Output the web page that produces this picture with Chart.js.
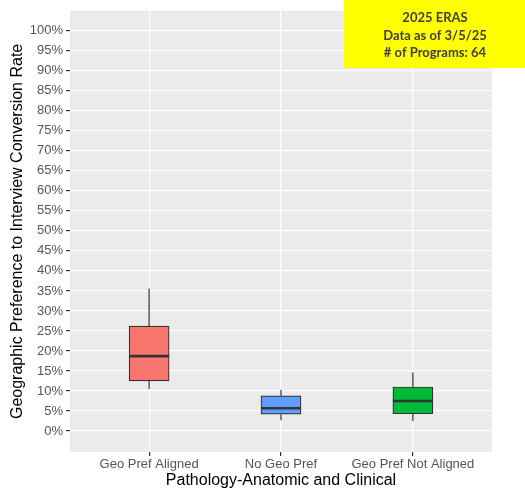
<!DOCTYPE html>
<html>
<head>
<meta charset="utf-8">
<script src="https://cdn.jsdelivr.net/npm/chart.js@4/dist/chart.umd.min.js"></script>
<style>
  body { margin: 0; background: #fff; }
  #wrap { width: 525px; height: 488px; }
</style>
</head>
<body>
<div id="wrap"><canvas id="boxChart" width="525" height="488"></canvas></div>
<script>
//------------------Data------------------
const categories = ['Geo Pref Aligned', 'No Geo Pref', 'Geo Pref Not Aligned'];
const whiskerLow = [10.5, 2.7, 2.5];
const q1 = [12.5, 4.2, 4.3];
const median = [18.7, 5.7, 7.5];
const q3 = [26.2, 8.8, 11.0];
const whiskerHigh = [35.6, 10.3, 14.6];
const yTicks = [0, 5, 10, 15, 20, 25, 30, 35, 40, 45, 50, 55, 60, 65, 70, 75, 80, 85, 90, 95, 100];
const noteLines = ['2025 ERAS', 'Data as of 3/5/25', '# of Programs: 64'];

const boxColors = ['#F8766D', '#619CFF', '#00BA38'];
const edge = '#333333';

//------------------Panel background, whiskers, medians, note------------------
const boxPlugin = {
  id: 'boxPlugin',
  beforeDraw(chart) {
    const { ctx, chartArea: a } = chart;
    ctx.save();
    ctx.fillStyle = '#EBEBEB';
    ctx.fillRect(a.left, a.top, a.right - a.left, a.bottom - a.top);
    ctx.restore();
  },
  beforeDatasetsDraw(chart) {
    const { ctx, scales } = chart;
    ctx.save();
    ctx.strokeStyle = edge;
    ctx.lineWidth = 1.2;
    categories.forEach((c, i) => {
      const x = scales.x.getPixelForValue(i + 1);
      ctx.beginPath();
      ctx.moveTo(x, scales.y.getPixelForValue(whiskerLow[i]));
      ctx.lineTo(x, scales.y.getPixelForValue(q1[i]));
      ctx.moveTo(x, scales.y.getPixelForValue(q3[i]));
      ctx.lineTo(x, scales.y.getPixelForValue(whiskerHigh[i]));
      ctx.stroke();
    });
    ctx.restore();
  },
  afterDatasetsDraw(chart) {
    const { ctx, scales } = chart;
    const meta = chart.getDatasetMeta(0);
    ctx.save();
    ctx.strokeStyle = edge;
    ctx.lineWidth = 2.6;
    meta.data.forEach((bar, i) => {
      const half = bar.width / 2;
      const y = scales.y.getPixelForValue(median[i]);
      ctx.beginPath();
      ctx.moveTo(bar.x - half, y);
      ctx.lineTo(bar.x + half, y);
      ctx.stroke();
    });
    ctx.restore();
  },
  afterDraw(chart) {
    const { ctx } = chart;
    ctx.save();
    ctx.fillStyle = '#FFFF00';
    ctx.fillRect(344, 0, 181, 68);
    ctx.fillStyle = '#404040';
    ctx.font = 'bold 13px Lato';
    ctx.textAlign = 'center';
    ctx.textBaseline = 'middle';
    noteLines.forEach((t, i) => ctx.fillText(t, 435, 18 + i * 17.5));
    ctx.restore();
  }
};

//------------------Build the chart------------------
new Chart(document.getElementById('boxChart'), {
  type: 'bar',
  data: {
    datasets: [{
      data: categories.map((c, i) => ({ x: i + 1, y: [q1[i], q3[i]] })),
      backgroundColor: boxColors,
      borderColor: edge,
      borderWidth: 1.2,
      borderSkipped: false,
      barThickness: 40
    }]
  },
  options: {
    responsive: false,
    animation: false,
    layout: { padding: { top: 6, right: 33, bottom: -2, left: 0 } },
    plugins: { legend: { display: false }, tooltip: { enabled: false } },
    scales: {
      x: {
        type: 'linear',
        min: 0.4,
        max: 3.6,
        offset: false,
        afterBuildTicks: (s) => { s.ticks = categories.map((c, i) => ({ value: i + 1 })); },
        afterFit: (s) => { s.height = 38; },
        ticks: {
          callback: (v) => categories[v - 1],
          color: '#555',
          font: { family: 'Liberation Sans', size: 13 },
          padding: 1,
          maxRotation: 0,
          autoSkip: false
        },
        grid: { offset: false, color: '#FFFFFF', lineWidth: 1.2, tickColor: '#333', tickLength: 4 },
        border: { display: false },
        title: {
          display: true,
          text: 'Pathology-Anatomic and Clinical',
          color: '#000',
          font: { family: 'Liberation Sans', size: 16 },
          padding: { top: 0, bottom: 0 }
        }
      },
      y: {
        min: -5.25,
        max: 105,
        afterBuildTicks: (s) => { s.ticks = yTicks.map((v) => ({ value: v })); },
        afterFit: (s) => { s.width = 70; },
        ticks: {
          callback: (v) => v + '%',
          color: '#555',
          font: { family: 'Liberation Sans', size: 13 },
          padding: 3
        },
        grid: { color: '#FFFFFF', lineWidth: 1.2, tickColor: '#333', tickLength: 4 },
        border: { display: false },
        title: {
          display: true,
          text: 'Geographic Preference to Interview Conversion Rate',
          color: '#000',
          font: { family: 'Liberation Sans', size: 16 },
          padding: { top: 8, bottom: 0 }
        }
      }
    }
  },
  plugins: [boxPlugin]
});
</script>
</body>
</html>
